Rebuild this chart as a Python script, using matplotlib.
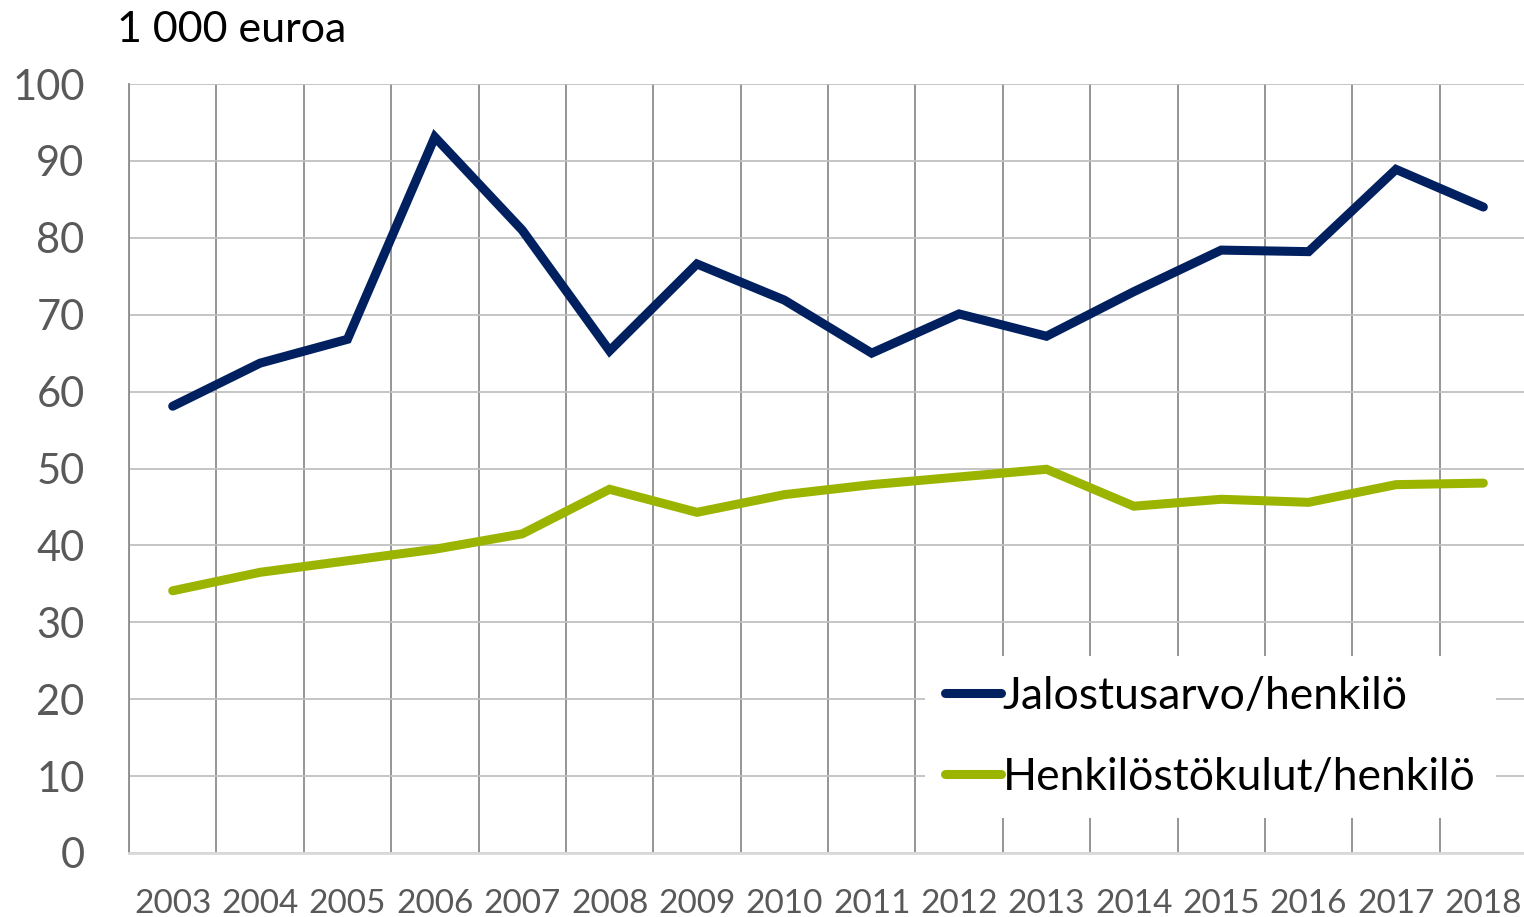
import matplotlib
matplotlib.use("Agg")
import matplotlib.pyplot as plt
from matplotlib.ticker import MultipleLocator, FixedLocator

years = ["2003", "2004", "2005", "2006", "2007", "2008", "2009", "2010",
         "2011", "2012", "2013", "2014", "2015", "2016", "2017", "2018"]
jalostusarvo = [58.1, 63.7, 66.8, 93.1, 81.0, 65.3, 76.6, 71.9,
                65.0, 70.1, 67.2, 73.0, 78.4, 78.2, 88.9, 84.0]
henkilostokulut = [34.1, 36.5, 38.0, 39.5, 41.5, 47.3, 44.3, 46.6,
                   47.9, 48.9, 49.9, 45.1, 46.0, 45.6, 47.9, 48.1]

plt.rcParams['font.family'] = ['Lato', 'DejaVu Sans']

fig = plt.figure(figsize=(15.24, 9.17), dpi=100)
ax = fig.add_axes([129/1524, 1-853/917, 1-129/1524 + 0.002, (853-84)/917])

x = list(range(len(years)))
ax.plot(x, jalostusarvo, color='#002060', lw=6.5, solid_capstyle='round',
        solid_joinstyle='miter', label='Jalostusarvo/henkilö', zorder=3)
ax.plot(x, henkilostokulut, color='#9BB400', lw=6.5, solid_capstyle='round',
        solid_joinstyle='miter', label='Henkilöstökulut/henkilö', zorder=3)

ax.set_xlim(-0.5, len(years) - 0.5)
ax.set_ylim(0, 100)
ax.yaxis.set_major_locator(MultipleLocator(10))
ax.set_xticks(x)
ax.set_xticklabels(years)
ax.xaxis.set_minor_locator(FixedLocator([i + 0.5 for i in range(-1, len(years))]))

ax.grid(axis='y', which='major', color='#c0c0c0', lw=1.3, zorder=0)
ax.grid(axis='x', which='minor', color='#8c8c8c', lw=1.3, zorder=0)
ax.grid(axis='x', which='major', visible=False)

for s in ['top', 'right']:
    ax.spines[s].set_visible(False)
ax.spines['left'].set_color('#8c8c8c')
ax.spines['left'].set_linewidth(1.3)
ax.spines['bottom'].set_color('#d9d9d9')
ax.spines['bottom'].set_linewidth(2)

ax.tick_params(axis='both', which='both', length=0)
ax.tick_params(axis='y', labelsize=30, labelcolor='#595959', pad=32)
ax.tick_params(axis='x', labelsize=24, labelcolor='#595959', pad=26)

fig.text(117/1524, 1-30/917, "1 000 euroa", fontsize=31, color='black', va='center', ha='left')

leg = ax.legend(loc='lower left', bbox_to_anchor=(925/1524, 1-818/917), bbox_transform=fig.transFigure,
                fontsize=32, frameon=True, framealpha=1, edgecolor='none', facecolor='white',
                handlelength=1.25, handletextpad=0.05, labelspacing=0.9, borderpad=0.45,
                borderaxespad=0)
leg.set_zorder(5)

fig.savefig("out.png", dpi=100)
